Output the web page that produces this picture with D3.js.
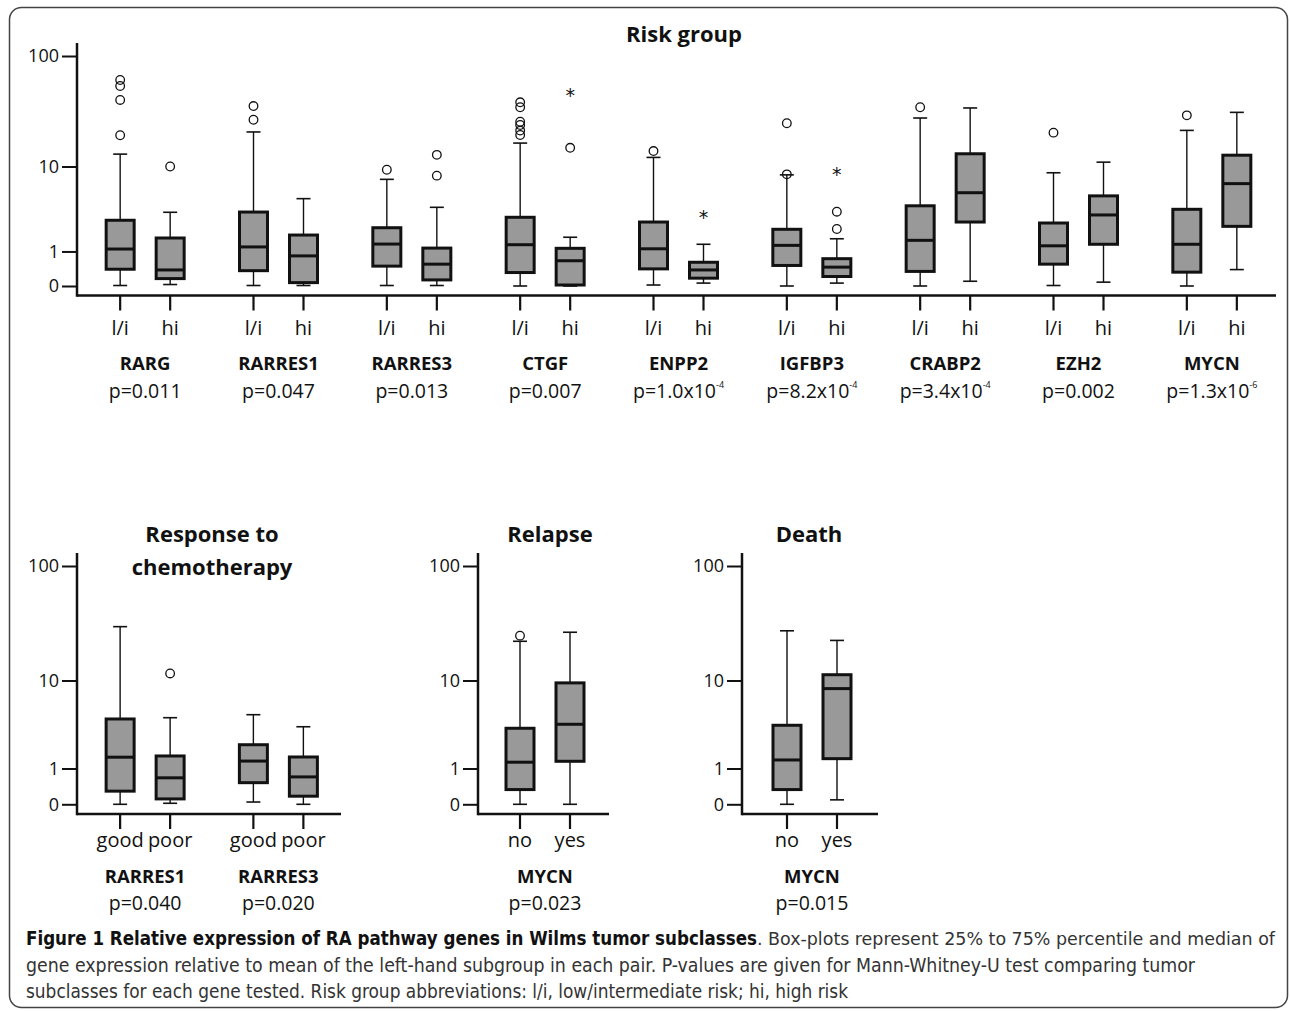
<!DOCTYPE html>
<html>
<head>
<meta charset="utf-8">
<script src="https://cdn.jsdelivr.net/npm/d3@7"></script>
<style>
  html, body { margin: 0; padding: 0; background: #fff; }
  svg { display: block; }
</style>
</head>
<body>
<script>
// ---------------- DATA ----------------
// Risk group panel
const riskGenes = ["RARG","RARRES1","RARRES3","CTGF","ENPP2","IGFBP3","CRABP2","EZH2","MYCN"];
const riskGroups = ["l/i","hi"];
const riskPBase = ["0.011","0.047","0.013","0.007","1.0x10","8.2x10","3.4x10","0.002","1.3x10"];
const riskPExp  = ["","","","","-4","-4","-4","","-6"];
// box stats: [lower whisker, Q1, median, Q3, upper whisker]
const riskLowStats = [
  [0.01, 0.40, 1.10, 2.74, 13.1],
  [0.01, 0.36, 1.19, 3.41, 21.0],
  [0.01, 0.49, 1.32, 2.22, 7.5],
  [0.00, 0.31, 1.29, 2.97, 16.6],
  [0.02, 0.41, 1.11, 2.61, 12.2],
  [0.00, 0.51, 1.26, 2.12, 8.3],
  [0.00, 0.34, 1.50, 4.00, 28.1],
  [0.01, 0.55, 1.24, 2.54, 8.7],
  [0.00, 0.32, 1.31, 3.66, 21.7]
];
const riskHighStats = [
  [0.03, 0.16, 0.38, 1.62, 3.39],
  [0.01, 0.07, 0.83, 1.78, 4.77],
  [0.01, 0.13, 0.55, 1.14, 3.85],
  [0.00, 0.02, 0.66, 1.13, 1.66],
  [0.06, 0.17, 0.38, 0.61, 1.31],
  [0.06, 0.21, 0.46, 0.73, 1.58],
  [0.10, 2.61, 5.50, 13.2, 34.6],
  [0.08, 1.31, 3.16, 5.10, 11.0],
  [0.39, 2.31, 6.80, 12.8, 31.6]
];
const riskLowOutliers = [[61.4, 54.3, 40.8, 19.6],[36.0, 27.1],[9.3],[38.9, 35.1, 26.0, 24.3, 21.6, 19.7],[14.0],[25.2, 8.4],[35.1],[20.7],[29.7]];
const riskHighOutliers = [[10.0],[],[12.9, 8.15],[15.0],[],[3.44, 2.14],[],[],[]];
const riskLowExtremes = [[],[],[],[],[],[],[],[],[]];
const riskHighExtremes = [[],[],[],[46.8],[3.16],[8.9],[],[],[]];

// Response to chemotherapy panel
const respGenes = ["RARRES1","RARRES3"];
const respGroups = ["good","poor"];
const respPBase = ["0.040","0.020"];
const respPExp = ["",""];
const respGoodStats = [[0.00, 0.29, 1.49, 4.22, 30.2],[0.045, 0.52, 1.31, 2.17, 4.67]];
const respPoorStats = [[0.02, 0.11, 0.67, 1.55, 4.35],[0.00, 0.17, 0.70, 1.50, 3.49]];
const respGoodOutliers = [[],[]];
const respPoorOutliers = [[11.6],[]];

// Relapse panel
const relGenes = ["MYCN"];
const relGroups = ["no","yes"];
const relPBase = ["0.023"];
const relPExp = [""];
const relNoStats = [[0.00, 0.33, 1.26, 3.36, 22.5]];
const relYesStats = [[0.00, 1.30, 3.71, 9.5, 27.0]];
const relNoOutliers = [[25.2]];
const relYesOutliers = [[]];

// Death panel
const deathGenes = ["MYCN"];
const deathGroups = ["no","yes"];
const deathPBase = ["0.015"];
const deathPExp = [""];
const deathNoStats = [[0.00, 0.33, 1.36, 3.62, 27.8]];
const deathYesStats = [[0.09, 1.42, 8.4, 11.3, 22.9]];

const yTicks = [0, 1, 10, 100];

// ---------------- DRAWING ----------------
const W = 1290, H = 1011;
const FONT = "'Open Sans', 'Noto Sans', sans-serif";
const CAPFONT = "'Liberation Sans Narrow', 'DejaVu Sans Condensed', 'Open Sans', sans-serif";
const BOX_FILL = "#999999";
const INK = "#111";

const svg = d3.select("body").append("svg").attr("width", W).attr("height", H);

svg.append("rect")
  .attr("x", 9.5).attr("y", 7.5).attr("width", 1278).attr("height", 1000)
  .attr("rx", 12).attr("ry", 12)
  .attr("fill", "none").attr("stroke", "#444").attr("stroke-width", 1.5);

function pick(arr, si, gi) {
  if (!arr || !arr[si] || !arr[si][gi]) return [];
  return arr[si][gi];
}

function drawPanel(p) {
  const g = svg.append("g");
  const y = d3.scaleSymlog().constant(1).domain([0, 100]).range([p.y0, p.y100]);
  const gx = d3.scaleBand().domain(p.genes).range(p.band);
  const sx = d3.scalePoint().domain(p.groups).range([-25, 25]);
  const cxOf = (gene, grp) => gx(gene) + gx.bandwidth() / 2 + sx(grp);

  // y axis ticks + labels
  const ax = g.append("g").attr("transform", `translate(${p.axisX},0)`)
    .call(d3.axisLeft(y).tickValues(yTicks).tickSize(15).tickPadding(3).tickFormat(d3.format("d")));
  ax.select(".domain").remove();
  ax.selectAll(".tick line").attr("stroke", INK).attr("stroke-width", 2);
  ax.selectAll(".tick text").attr("font-family", FONT).attr("font-size", 18).attr("fill", INK);

  // axis lines
  g.append("line").attr("x1", p.axisX).attr("x2", p.axisX).attr("y1", p.axisTop).attr("y2", p.xAxisY + 1.25)
    .attr("stroke", INK).attr("stroke-width", 2.5);
  g.append("line").attr("x1", p.axisX).attr("x2", p.axisEnd).attr("y1", p.xAxisY).attr("y2", p.xAxisY)
    .attr("stroke", INK).attr("stroke-width", 2.5);

  // title
  const t = g.append("text").attr("text-anchor", "middle").attr("font-family", FONT)
    .attr("font-weight", "bold").attr("font-size", 22).attr("fill", INK);
  p.title.forEach((line, i) => {
    t.append("tspan").attr("x", p.titleX).attr("y", p.titleY + i * 32.5).text(line);
  });

  p.genes.forEach((gene, gi) => {
    p.groups.forEach((grp, si) => {
      const cx = cxOf(gene, grp);
      const s = p.stats[si][gi];
      const [lo, q1, md, q3, hi] = s;
      // whiskers
      g.append("line").attr("x1", cx).attr("x2", cx).attr("y1", y(hi)).attr("y2", y(q3))
        .attr("stroke", INK).attr("stroke-width", 1.4);
      g.append("line").attr("x1", cx).attr("x2", cx).attr("y1", y(q1)).attr("y2", y(lo))
        .attr("stroke", INK).attr("stroke-width", 1.4);
      [hi, lo].forEach(v => {
        g.append("line").attr("x1", cx - 7).attr("x2", cx + 7).attr("y1", y(v)).attr("y2", y(v))
          .attr("stroke", INK).attr("stroke-width", 1.6);
      });
      // box
      g.append("rect").attr("x", cx - 14).attr("width", 28)
        .attr("y", y(q3)).attr("height", Math.max(0, y(q1) - y(q3)))
        .attr("fill", BOX_FILL).attr("stroke", INK).attr("stroke-width", 3);
      g.append("line").attr("x1", cx - 14).attr("x2", cx + 14).attr("y1", y(md)).attr("y2", y(md))
        .attr("stroke", INK).attr("stroke-width", 3);
      // outliers
      pick(p.outliers, si, gi).forEach(v => {
        g.append("circle").attr("cx", cx).attr("cy", y(v)).attr("r", 4.3)
          .attr("fill", "none").attr("stroke", INK).attr("stroke-width", 1.3);
      });
      pick(p.extremes, si, gi).forEach(v => {
        g.append("text").attr("x", cx).attr("y", y(v) + 9).attr("text-anchor", "middle")
          .attr("font-family", "'DejaVu Sans', sans-serif").attr("font-size", 19).attr("fill", INK).text("*");
      });
      // x tick + label
      g.append("line").attr("x1", cx).attr("x2", cx).attr("y1", p.xAxisY).attr("y2", p.xAxisY + 15)
        .attr("stroke", INK).attr("stroke-width", 2.2);
      g.append("text").attr("x", cx).attr("y", p.catY).attr("text-anchor", "middle")
        .attr("font-family", FONT).attr("font-size", 20).attr("fill", INK).text(grp);
    });
    const gc = gx(gene) + gx.bandwidth() / 2;
    g.append("text").attr("x", gc).attr("y", p.geneY).attr("text-anchor", "middle")
      .attr("font-family", FONT).attr("font-weight", "bold").attr("font-size", 18.5).attr("fill", INK).text(gene);
    const pt = g.append("text").attr("x", gc).attr("y", p.pY).attr("text-anchor", "middle")
      .attr("font-family", FONT).attr("font-size", 19.5).attr("fill", INK);
    pt.append("tspan").text("p=" + p.pBase[gi]);
    if (p.pExp[gi]) {
      pt.append("tspan").attr("dy", -10).attr("font-size", 9).text(p.pExp[gi]);
    }
  });
}

drawPanel({
  genes: riskGenes, groups: riskGroups,
  stats: [riskLowStats, riskHighStats],
  outliers: [riskLowOutliers, riskHighOutliers],
  extremes: [riskLowExtremes, riskHighExtremes],
  pBase: riskPBase, pExp: riskPExp,
  y0: 286, y100: 56, axisX: 77, axisTop: 43, xAxisY: 295.5, axisEnd: 1276,
  band: [78.5, 1278.5],
  title: ["Risk group"], titleX: 684, titleY: 42,
  catY: 335, geneY: 370, pY: 398
});

drawPanel({
  genes: respGenes, groups: respGroups,
  stats: [respGoodStats, respPoorStats],
  outliers: [respGoodOutliers, respPoorOutliers],
  pBase: respPBase, pExp: respPExp,
  y0: 804.3, y100: 566, axisX: 77, axisTop: 553, xAxisY: 814, axisEnd: 341,
  band: [78.5, 345],
  title: ["Response to", "chemotherapy"], titleX: 212, titleY: 542,
  catY: 846.5, geneY: 883, pY: 909.5
});

drawPanel({
  genes: relGenes, groups: relGroups,
  stats: [relNoStats, relYesStats],
  outliers: [relNoOutliers, relYesOutliers],
  pBase: relPBase, pExp: relPExp,
  y0: 804.3, y100: 566, axisX: 478, axisTop: 553, xAxisY: 814, axisEnd: 609,
  band: [478.5, 611.5],
  title: ["Relapse"], titleX: 550, titleY: 542,
  catY: 846.5, geneY: 883, pY: 909.5
});

drawPanel({
  genes: deathGenes, groups: deathGroups,
  stats: [deathNoStats, deathYesStats],
  pBase: deathPBase, pExp: deathPExp,
  y0: 804.3, y100: 566, axisX: 742, axisTop: 553, xAxisY: 814, axisEnd: 878,
  band: [745.5, 878.5],
  title: ["Death"], titleX: 809, titleY: 542,
  catY: 846.5, geneY: 883, pY: 909.5
});

// caption
svg.append("text").attr("x", 26).attr("y", 945)
  .attr("font-family", CAPFONT).attr("font-size", 19).attr("font-weight", "bold").attr("fill", "#111")
  .attr("textLength", 731).attr("lengthAdjust", "spacingAndGlyphs")
  .text("Figure 1 Relative expression of RA pathway genes in Wilms tumor subclasses");
svg.append("text").attr("x", 757).attr("y", 945)
  .attr("font-family", CAPFONT).attr("font-size", 18.5).attr("fill", "#333")
  .attr("textLength", 518).attr("lengthAdjust", "spacingAndGlyphs")
  .text(". Box-plots represent 25% to 75% percentile and median of");
svg.append("text").attr("x", 26).attr("y", 971.5)
  .attr("font-family", CAPFONT).attr("font-size", 19.5).attr("fill", "#333")
  .attr("textLength", 1169).attr("lengthAdjust", "spacingAndGlyphs")
  .text("gene expression relative to mean of the left-hand subgroup in each pair. P-values are given for Mann-Whitney-U test comparing tumor");
svg.append("text").attr("x", 26).attr("y", 997.5)
  .attr("font-family", CAPFONT).attr("font-size", 19.5).attr("fill", "#333")
  .attr("textLength", 822).attr("lengthAdjust", "spacingAndGlyphs")
  .text("subclasses for each gene tested. Risk group abbreviations: l/i, low/intermediate risk; hi, high risk");
</script>
</body>
</html>
